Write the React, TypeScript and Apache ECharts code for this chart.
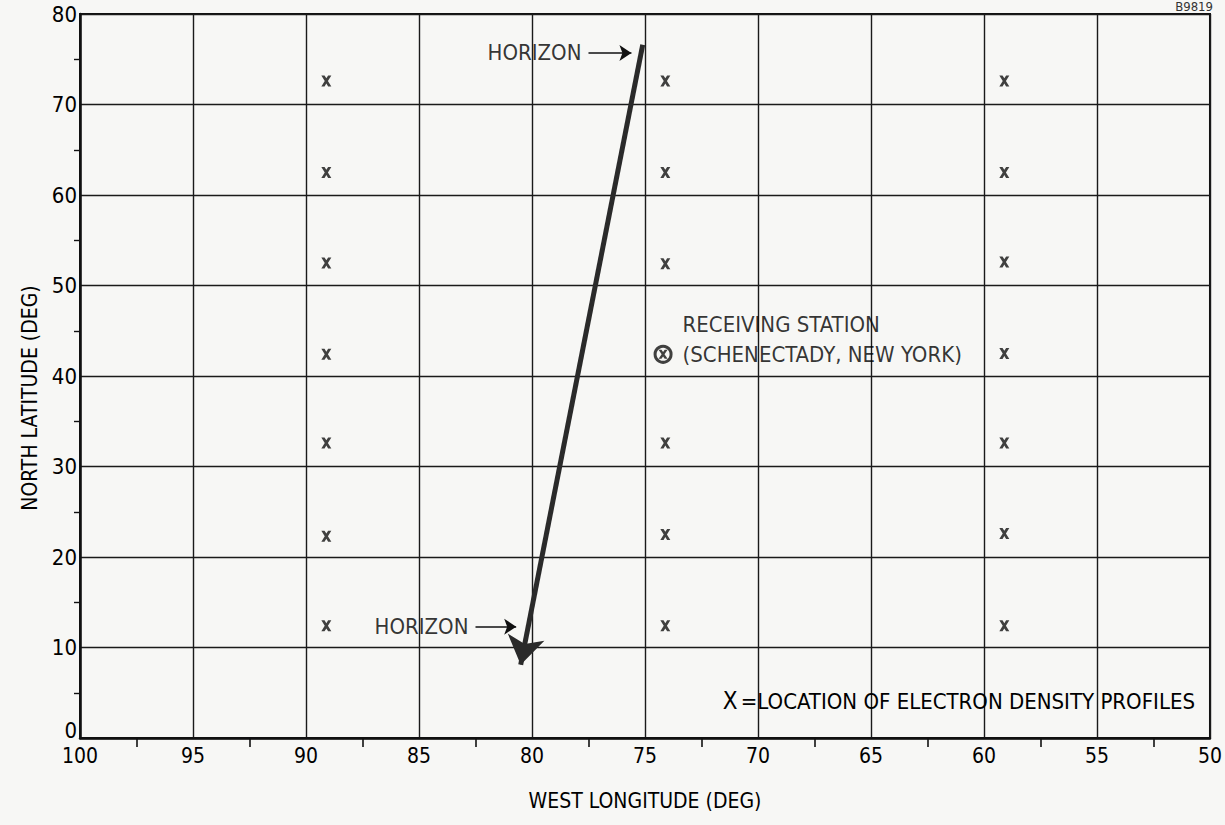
import React, { useEffect, useRef } from "react";
import * as echarts from "echarts";

// West longitude ticks (axis runs 100 → 50 left to right) and north latitude ticks
const longitudeTicks = [100, 95, 90, 85, 80, 75, 70, 65, 60, 55, 50];
const latitudeTicks = [0, 10, 20, 30, 40, 50, 60, 70, 80];

// Locations of electron density profiles [west longitude, north latitude]
const profilePoints: number[][] = [
  [89.1, 72.6], [89.1, 62.5], [89.1, 52.5], [89.1, 42.4], [89.1, 32.6], [89.1, 22.3], [89.1, 12.4],
  [74.1, 72.6], [74.1, 62.5], [74.1, 52.4], [74.1, 32.6], [74.1, 22.5], [74.1, 12.4],
  [59.1, 72.6], [59.1, 62.5], [59.1, 52.6], [59.1, 42.5], [59.1, 32.6], [59.1, 22.6], [59.1, 12.4],
];

// Receiving station (Schenectady, New York)
const stationPoint = [74.2, 42.4];

// Horizon-to-horizon path: upper horizon → lower horizon (arrow at the lower end)
const horizonPath = [
  [75.1, 76.6],
  [80.5, 8.1],
];

// Short pointers next to the two HORIZON labels [start, tip]
const upperPointer = [[77.5, 75.7], [75.6, 75.7]];
const lowerPointer = [[82.5, 12.3], [80.7, 12.3]];

const FONT = '"DejaVu Sans Condensed", "Liberation Sans Narrow", "Arial Narrow", sans-serif';
const INK = "#000";

const crossPath =
  "path://M0,0 L3.2,0 L5,2.6 L6.8,0 L10,0 L6.6,5 L10,10 L6.8,10 L5,7.4 L3.2,10 L0,10 L3.4,5 Z";

export default function App() {
  const ref = useRef<HTMLDivElement>(null);

  useEffect(() => {
    if (!ref.current) return;
    const chart = echarts.init(ref.current, undefined, { renderer: "svg" });

    const option: echarts.EChartsOption = {
      animation: false,
      backgroundColor: "#f7f7f5",
      textStyle: { fontFamily: FONT, color: INK },
      grid: {
        left: 80,
        right: 12,
        top: 14,
        bottom: 87,
        show: true,
        borderColor: "#111",
        borderWidth: 2,
        backgroundColor: "transparent",
      },
      xAxis: {
        type: "value",
        inverse: true,
        min: longitudeTicks[longitudeTicks.length - 1],
        max: longitudeTicks[0],
        interval: 5,
        name: "WEST LONGITUDE (DEG)",
        nameLocation: "middle",
        nameGap: 52,
        nameTextStyle: { fontFamily: FONT, fontSize: 21, color: INK },
        axisLine: { show: true, onZero: false, lineStyle: { color: "#111", width: 2.5 } },
        axisTick: { show: false },
        minorTick: { show: true, splitNumber: 2, length: 9, lineStyle: { color: "#111", width: 1.6 } },
        axisLabel: {
          fontFamily: FONT,
          fontSize: 21,
          color: INK,
          margin: 7,
          formatter: (v: number) => (longitudeTicks.includes(v) ? String(v) : ""),
        },
        splitLine: { show: true, lineStyle: { color: "#1a1a1a", width: 1.4 } },
      },
      yAxis: {
        type: "value",
        min: latitudeTicks[0],
        max: latitudeTicks[latitudeTicks.length - 1],
        interval: 10,
        name: "NORTH LATITUDE (DEG)",
        nameLocation: "middle",
        nameGap: 40,
        nameTextStyle: { fontFamily: FONT, fontSize: 21, color: INK, padding: [0, 44, 0, 0] },
        axisLine: { show: true, onZero: false, lineStyle: { color: "#111", width: 2.5 } },
        axisTick: { show: false },
        minorTick: { show: true, splitNumber: 2, length: 6, lineStyle: { color: "#111", width: 1.4 } },
        axisLabel: {
          fontFamily: FONT,
          fontSize: 22,
          color: INK,
          margin: 3,
          // the zero label sits just above the corner, clear of the longitude labels
          formatter: (v: number) =>
            v === 0 ? "{z|0}" : latitudeTicks.includes(v) ? String(v) : "",
          rich: {
            z: { fontFamily: FONT, fontSize: 22, color: INK, padding: [0, 0, 16, 0] },
          },
        },
        splitLine: { show: true, lineStyle: { color: "#1a1a1a", width: 1.4 } },
      },
      series: [
        {
          name: "Horizon path",
          type: "lines",
          coordinateSystem: "cartesian2d",
          symbol: ["none", "arrow"],
          symbolSize: 28,
          lineStyle: { color: "#2a2a2a", width: 5, opacity: 1 },
          data: [{ coords: horizonPath }],
          z: 5,
        },
        {
          name: "Horizon pointers",
          type: "lines",
          coordinateSystem: "cartesian2d",
          symbol: ["none", "arrow"],
          symbolSize: 12,
          lineStyle: { color: "#111", width: 1.6, opacity: 1 },
          data: [{ coords: upperPointer }, { coords: lowerPointer }],
          z: 5,
        },
        {
          name: "Horizon labels",
          type: "scatter",
          symbolSize: 0,
          silent: true,
          label: {
            show: true,
            position: "left",
            distance: 7,
            formatter: "HORIZON",
            fontFamily: FONT,
            fontSize: 22,
            color: INK,
          },
          data: [upperPointer[0], lowerPointer[0]],
        },
        {
          name: "Electron density profiles",
          type: "scatter",
          symbol: crossPath,
          symbolSize: [10, 11],
          itemStyle: { color: "#111" },
          data: profilePoints,
          z: 6,
        },
        {
          name: "Receiving station",
          type: "scatter",
          symbol: "circle",
          symbolSize: 16,
          itemStyle: { color: "transparent", borderColor: "#111", borderWidth: 3 },
          data: [stationPoint],
          label: {
            show: true,
            position: "right",
            distance: 10,
            offset: [0, -15],
            formatter: "{a|RECEIVING STATION}\n{a|(SCHENECTADY, NEW YORK)}",
            rich: {
              a: { fontFamily: FONT, fontSize: 22, color: INK, lineHeight: 30 },
            },
          },
          z: 6,
        },
        {
          name: "Receiving station cross",
          type: "scatter",
          symbol: crossPath,
          symbolSize: [9, 9],
          itemStyle: { color: "#111" },
          data: [stationPoint],
          z: 7,
        },
      ],
      graphic: [
        {
          type: "text",
          right: 30,
          top: 689,
          style: {
            text: "{x|X} {t|=LOCATION OF ELECTRON DENSITY PROFILES}",
            rich: {
              x: { fontFamily: FONT, fontSize: 24, fill: INK },
              t: { fontFamily: FONT, fontSize: 22, fill: INK },
            },
            fill: INK,
          },
          z: 10,
        },
        {
          type: "text",
          right: 12,
          top: 0,
          style: { text: "B9819", fontFamily: FONT, fontSize: 13, fill: "#333" },
        },
      ],
    };

    chart.setOption(option);
    return () => chart.dispose();
  }, []);

  return (
    <div
      ref={ref}
      style={{ position: "absolute", left: 0, top: 0, width: 1225, height: 825, background: "#f7f7f5" }}
    />
  );
}
